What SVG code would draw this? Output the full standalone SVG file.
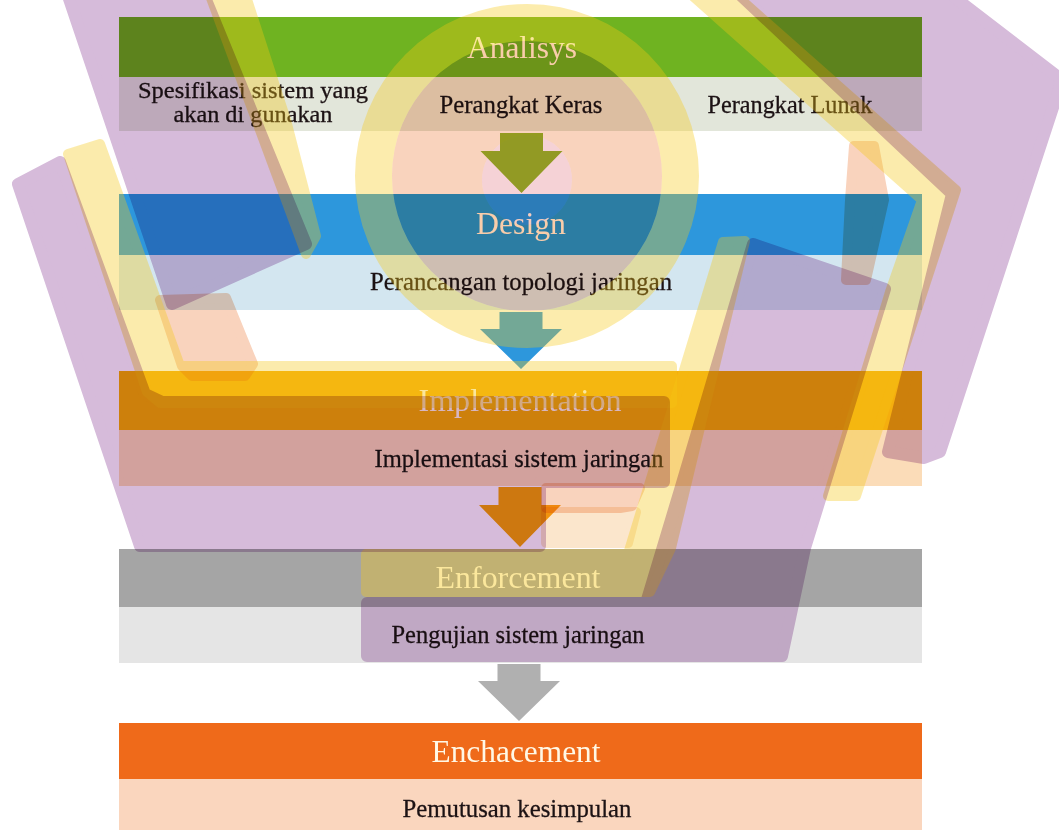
<svg xmlns="http://www.w3.org/2000/svg" width="1059" height="830" viewBox="0 0 1059 830">
<style>
.hd{font-family:"Liberation Serif","Times New Roman",serif;font-size:32px;fill:#fff8e6;text-anchor:middle}
.tx{font-family:"Liberation Serif","Times New Roman",serif;font-size:26px;fill:#1c1214;stroke:#1c1214;stroke-width:0.3;text-anchor:middle}
.sm{font-size:23px}
.p{fill:#d6bbda;stroke:#d6bbda;stroke-width:12;stroke-linejoin:round;mix-blend-mode:multiply}
.y{fill:#f5c814;stroke:#f5c814;stroke-width:10;stroke-linejoin:round;opacity:0.35}
.k{fill:#f9d3bd;stroke:#f9d3bd;stroke-width:10;stroke-linejoin:round;mix-blend-mode:multiply}
</style>
<rect width="1059" height="830" fill="#ffffff"/>
<g id="analisys">
<rect x="119" y="17" width="803" height="60" fill="#6fb321"/>
<rect x="119" y="77" width="803" height="54" fill="#e2e6da"/>
<text class="hd" x="522" y="58" textLength="110" lengthAdjust="spacingAndGlyphs">Analisys</text>
<text class="tx sm" x="253" y="98" textLength="230" lengthAdjust="spacingAndGlyphs">Spesifikasi sistem yang</text>
<text class="tx sm" x="253" y="122" textLength="159" lengthAdjust="spacingAndGlyphs">akan di gunakan</text>
<text class="tx" x="521" y="113" textLength="163" lengthAdjust="spacingAndGlyphs">Perangkat Keras</text>
<text class="tx" x="790" y="113" textLength="165" lengthAdjust="spacingAndGlyphs">Perangkat Lunak</text>
</g>
<g id="design">
<rect x="119" y="194" width="803" height="61" fill="#2d97dc"/>
<rect x="119" y="255" width="803" height="55" fill="#d3e6f0"/>
<text class="hd" x="521" y="234" textLength="90" lengthAdjust="spacingAndGlyphs">Design</text>
<text class="tx" x="521" y="290" textLength="302" lengthAdjust="spacingAndGlyphs">Perancangan topologi jaringan</text>
</g>
<g id="implementation">
<rect x="119" y="371" width="803" height="59" fill="#f5ae0e"/>
<rect x="119" y="430" width="803" height="56" fill="#fbdcb8"/>
<text class="hd" x="520" y="411" textLength="203" lengthAdjust="spacingAndGlyphs">Implementation</text>
<text class="tx" x="519" y="467" textLength="289" lengthAdjust="spacingAndGlyphs">Implementasi sistem jaringan</text>
</g>
<g id="enforcement">
<rect x="119" y="549" width="803" height="58" fill="#a5a5a5"/>
<rect x="119" y="607" width="803" height="56" fill="#e5e5e5"/>
<text class="hd" x="518" y="588" textLength="165" lengthAdjust="spacingAndGlyphs">Enforcement</text>
<text class="tx" x="518" y="643" textLength="253" lengthAdjust="spacingAndGlyphs">Pengujian sistem jaringan</text>
</g>
<g id="enchacement">
<rect x="119" y="723" width="803" height="56" fill="#ef6a1a"/>
<rect x="119" y="779" width="803" height="51" fill="#fad6be"/>
<text class="hd" x="516" y="762" textLength="169" lengthAdjust="spacingAndGlyphs">Enchacement</text>
<text class="tx" x="517" y="817" textLength="229" lengthAdjust="spacingAndGlyphs">Pemutusan kesimpulan</text>
</g>
<g id="connectors">
<path d="M500 133H543V151H562.5L521.5 193L480.5 151H500Z" fill="#98bb2a"/>
<path d="M499.5 312H542.5V329H562L521 369L480 329H499.5Z" fill="#2d97dc"/>
<path d="M498.5 487H541.5V505H561L520 547L479 505H498.5Z" fill="#f5a412"/>
<path d="M497.5 664H540.5V681H560L519 721L478 681H497.5Z" fill="#b0b0b0"/>
</g>
<g id="watermark">
<path class="y" fill-rule="evenodd" d="M355 176a172 172 0 1 0 344 0a172 172 0 1 0 -344 0ZM392 176a135 135 0 1 0 270 0a135 135 0 1 0 -270 0Z" style="stroke:none"/>
<path class="k" fill-rule="evenodd" d="M392 176a135 135 0 1 0 270 0a135 135 0 1 0 -270 0ZM482 180a45 45 0 1 0 90 0a45 45 0 1 0 -90 0Z" style="stroke:none"/>
<circle class="k" cx="527" cy="180" r="45" style="fill:#f5d2d6;stroke:none"/>
<polygon class="k" points="160,300 226,298 253,364 245,376 192,376 182,366"/>
<polygon class="k" points="546,488 640,488 632,506 620,508 546,508"/>
<polygon class="k" points="546,512 636,512 628,543 546,543" style="fill:#fbe6cc;stroke:#fbe6cc"/>
<polygon class="k" points="854,146 874,146 884,200 866,280 846,280 850,200"/>
<polygon class="y" points="208,-10 244,-10 286,120 316,236 306,254"/>
<polygon class="y" points="68,154 100,144 180,366 672,366 672,403 160,403 147,392"/>
<polygon class="y" points="723,242 745,241 671,548 650,592 366,592 366,554 628,554"/>
<polygon class="y" points="686,-10 730,-10 956,190 856,496 828,496 890,292 922,200"/>
<polygon class="p" points="66,-10 202,-10 306,244 172,304"/>
<polygon class="p" points="18,184 60,162 145,394 162,402 664,402 664,482 540,482 540,546 140,546"/>
<polygon class="p" points="753,244 885,289 805,548 782,656 367,656 367,603 646,603 680,490"/>
<polygon class="p" points="735,-10 945,-10 1062,80 940,452 924,458 888,452 952,194"/>
</g>
</svg>
